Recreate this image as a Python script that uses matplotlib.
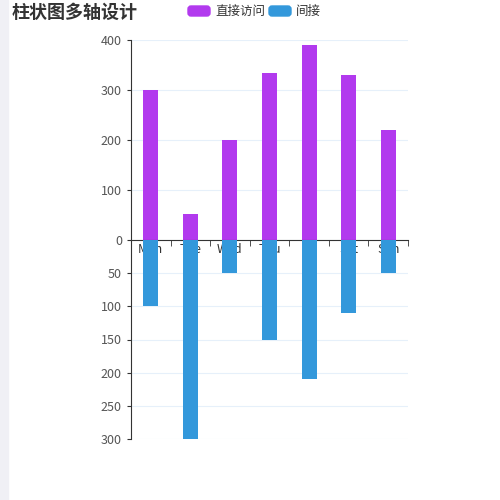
import matplotlib.pyplot as plt
from matplotlib.patches import FancyBboxPatch, Rectangle
import numpy as np

plt.rcParams['font.family'] = ['Noto Sans CJK SC', 'DejaVu Sans']

days = ['Mon', 'Tue', 'Wed', 'Thu', 'Fri', 'Sat', 'Sun']
direct = [300, 52, 200, 335, 390, 330, 220]
indirect = [100, 300, 50, 150, 210, 110, 50]
purple = '#b23aee'
blue = '#3398db'

fig = plt.figure(figsize=(5, 5), dpi=100)
fig.patches.append(Rectangle((0, 0), 0.016, 1, transform=fig.transFigure,
                             color='#f0f0f5', zorder=0))

x = np.arange(len(days))
ax1 = fig.add_axes([0.262, 0.52, 0.554, 0.40])
ax2 = fig.add_axes([0.262, 0.122, 0.554, 0.398])
for ax in (ax1, ax2):
    ax.patch.set_alpha(0)
    ax.set_xlim(-0.5, 6.5)
    for s in ('top', 'right'):
        ax.spines[s].set_visible(False)
    ax.spines['left'].set_color('#333333')
    ax.grid(axis='y', color='#e6f0fa', lw=0.8)
    ax.set_axisbelow(True)
    ax.tick_params(axis='y', length=3, colors='#333333', labelsize=9, labelcolor='#555555')

ax1.bar(x, direct, width=0.38, color=purple)
ax1.set_ylim(0, 400)
ax1.set_yticks([0, 100, 200, 300, 400])
ax1.spines['bottom'].set_color('#333333')
ax1.set_xticks(x)
ax1.set_xticklabels(days, fontsize=9, color='#333333')
ax1.tick_params(axis='x', length=0, pad=2)
ax1.set_xticks(np.arange(-0.5, 7, 1), minor=True)
ax1.tick_params(axis='x', which='minor', length=4, color='#333333')

ax2.bar(x, indirect, width=0.38, color=blue)
ax2.set_ylim(300, 0)
ax2.set_yticks([50, 100, 150, 200, 250, 300])
ax2.spines['bottom'].set_visible(False)
ax2.set_xticks([])

fig.text(0.024, 0.975, '柱状图多轴设计', fontsize=13, fontweight='bold',
         color='#333333', va='center')
fig.patches.append(FancyBboxPatch((0.376, 0.968), 0.044, 0.02, boxstyle='round,pad=0,rounding_size=0.006',
                                  transform=fig.transFigure, color=purple))
fig.text(0.43, 0.978, '直接访问', fontsize=9, color='#333333', va='center')
fig.patches.append(FancyBboxPatch((0.538, 0.968), 0.044, 0.02, boxstyle='round,pad=0,rounding_size=0.006',
                                  transform=fig.transFigure, color=blue))
fig.text(0.592, 0.978, '间接', fontsize=9, color='#333333', va='center')

fig.savefig('out.png')
